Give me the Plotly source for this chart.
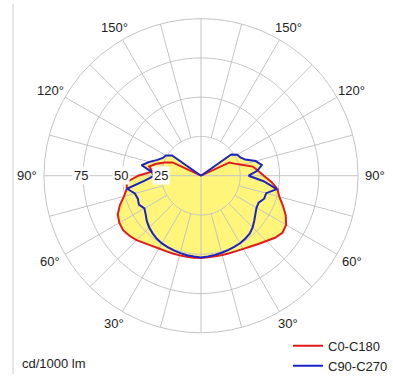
import math
import plotly.graph_objects as go

# photometric angle gamma (deg, 0 = straight down)
GAMMA = [0, 5, 10, 15, 20, 25, 30, 35, 40, 45, 50, 55, 60, 65, 70, 75, 80, 85,
         90, 95, 100, 105, 110, 115, 120, 125, 130, 135, 140, 145, 150, 155,
         160, 165, 170, 175, 180]

# cd/1000 lm
C0 = [52.4, 52.2, 52.1, 52.2, 52.5, 53.0, 53.8, 55.0, 56.8, 58.8, 61.5, 63.3,
      62.6, 59.5, 55.5, 51.6, 49.5, 45.0, 40.0, 36.5, 33.5, 27.0, 22.5, 20.0,
      0, 0, 0, 0, 0, 0, 0, 0, 0, 0, 0, 0, 0]
C180 = [52.4, 52.4, 52.4, 52.5, 52.7, 53.0, 53.5, 54.5, 56.0, 58.0, 59.5, 60.5,
        60.0, 58.5, 55.0, 50.8, 48.0, 47.5, 40.0, 31.0, 33.5, 29.5, 24.5, 20.0,
        0, 0, 0, 0, 0, 0, 0, 0, 0, 0, 0, 0, 0]
C90 = [52.0, 51.6, 51.2, 50.8, 50.4, 50.0, 49.7, 49.0, 48.2, 46.5, 44.3, 42.3,
       40.8, 40.5, 42.8, 43.0, 49.0, 40.0, 30.3, 36.0, 39.3, 36.0, 30.0, 27.6,
       26.7, 23.5, 0, 0, 0, 0, 0, 0, 0, 0, 0, 0, 0]
C270 = [52.0, 51.7, 51.4, 51.0, 50.6, 50.2, 49.8, 49.0, 47.9, 46.6, 45.0, 43.0,
        41.6, 43.6, 42.8, 43.6, 47.8, 36.0, 29.7, 32.0, 38.4, 34.0, 29.5, 26.8,
        25.8, 22.5, 0, 0, 0, 0, 0, 0, 0, 0, 0, 0, 0]

SERIES = ["C0-C180", "C90-C270"]
COLORS = ["#e3191c", "#1c22c4"]
FILL = "#fff57a"

ANGLE_TICKS = [30, 60, 90, 120, 150, 210, 240, 270, 300, 330]
ANGLE_TEXT = ["30°", "60°", "90°", "120°", "150°", "150°", "120°", "90°", "60°", "30°"]
RADIAL_TICKS = [25, 50, 75, 100]
RADIAL_LABELS = [25, 50, 75]
UNIT = "cd/1000 lm"

W, H = 393, 381
CX, CY, R = 201, 179, 160
RMAX = 100
LABEL_R = 174  # px from centre for angular labels

FONT = "Liberation Sans, Arial, Helvetica, sans-serif"
GRID = "#c4c4c4"
TXT = "#222222"


def full_curve(right, left):
    theta = [-g for g in reversed(GAMMA)] + GAMMA[1:]
    r = list(reversed(left)) + right[1:]
    return theta, r


curves = [full_curve(C0, C180), full_curve(C90, C270)]

fig = go.Figure()

# yellow fill (union of both curves)
for theta, r in curves:
    fig.add_trace(go.Scatterpolar(theta=theta, r=r, mode="lines", fill="toself",
                                  fillcolor=FILL, line=dict(width=0, color=FILL),
                                  showlegend=False, hoverinfo="skip"))

# grid circles
for rv in RADIAL_TICKS[:-1]:
    th = list(range(0, 361, 2))
    fig.add_trace(go.Scatterpolar(theta=th, r=[rv] * len(th), mode="lines",
                                  line=dict(color=GRID, width=1),
                                  showlegend=False, hoverinfo="skip"))

# spokes
sth, sr = [], []
for a in range(0, 360, 15):
    r0 = 0 if a % 90 == 0 else RADIAL_TICKS[0]
    sth += [a, a, None]
    sr += [r0, RMAX, None]
fig.add_trace(go.Scatterpolar(theta=sth, r=sr, mode="lines",
                              line=dict(color=GRID, width=1), cliponaxis=False,
                              showlegend=False, hoverinfo="skip", connectgaps=False))

# curves
for (theta, r), name, col in zip(curves, SERIES, COLORS):
    fig.add_trace(go.Scatterpolar(theta=theta, r=r, mode="lines", name=name,
                                  line=dict(color=col, width=2)))

annotations = []
for rv in RADIAL_LABELS:
    px = CX - rv / RMAX * R
    annotations.append(dict(x=px / W, y=1 - CY / H, xref="paper", yref="paper",
                            text=str(rv), showarrow=False, bgcolor="white",
                            borderpad=1, font=dict(size=13, color=TXT, family=FONT),
                            xanchor="center", yanchor="middle"))
# angular labels (theta measured counterclockwise from the bottom)
for tv, tt in zip(ANGLE_TICKS, ANGLE_TEXT):
    a = math.radians(tv)
    px = CX + LABEL_R * math.sin(a)
    py = CY + LABEL_R * math.cos(a)
    annotations.append(dict(x=px / W, y=1 - py / H, xref="paper", yref="paper",
                            text=tt, showarrow=False, xanchor="center", yanchor="middle",
                            font=dict(size=13, color=TXT, family=FONT)))
annotations.append(dict(x=20 / W, y=1 - 370 / H, xref="paper", yref="paper",
                        text=UNIT, showarrow=False, xanchor="left", yanchor="middle",
                        font=dict(size=13, color=TXT, family=FONT)))

fig.update_layout(
    width=W, height=H,
    margin=dict(l=0, r=0, t=0, b=0),
    paper_bgcolor="white",
    font=dict(family=FONT, size=13, color=TXT),
    polar=dict(
        domain=dict(x=[(CX - R) / W, (CX + R) / W], y=[1 - (CY + R) / H, 1 - (CY - R) / H]),
        bgcolor="white",
        radialaxis=dict(range=[0, RMAX], showgrid=False, showline=False,
                        showticklabels=False, ticks=""),
        angularaxis=dict(rotation=-90, direction="counterclockwise",
                         tickvals=ANGLE_TICKS, showticklabels=False,
                         showgrid=False, showline=True, linecolor=GRID, linewidth=1,
                         ticks=""),
    ),
    showlegend=True,
    legend=dict(x=393 / W, xanchor="right", y=-7 / H, yanchor="bottom",
                bgcolor="rgba(0,0,0,0)", font=dict(size=13, color=TXT, family=FONT),
                tracegroupgap=0, itemwidth=30),
    annotations=annotations,
    shapes=[dict(type="line", xref="paper", yref="paper", x0=13 / W, x1=13 / W,
                 y0=0, y1=1 - 4 / H, line=dict(color="#cccccc", width=1))],
)

fig.write_html(
    "out.html",
    config={"displayModeBar": False},
    post_script=(
        "document.body.style.margin='0';document.body.style.padding='0';"
        "document.documentElement.style.overflow='hidden';"
    ),
)
